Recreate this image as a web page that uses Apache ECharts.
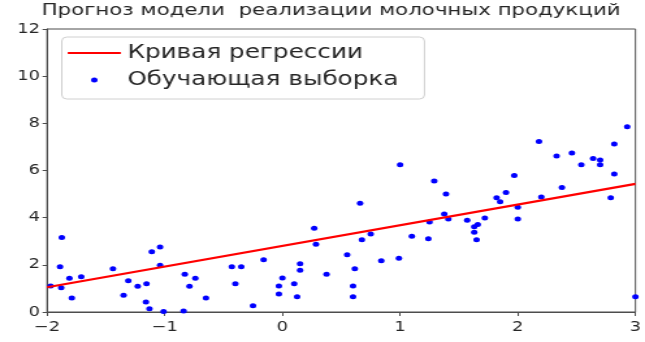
<!DOCTYPE html>
<html><head><meta charset="utf-8">
<script src="https://cdn.jsdelivr.net/npm/echarts@6/dist/echarts.min.js"></script>
<style>
html,body{margin:0;padding:0;background:#fff;overflow:hidden}
#wrap{width:645px;height:342px;overflow:hidden}
#c{width:496px;height:342px;transform:scaleX(1.3004);transform-origin:0 0}
</style>
</head><body><div id="wrap"><div id="c"></div></div>
<script>
const titleText = 'Прогноз модели  реализации молочных продукций';
const lineName = 'Кривая регрессии';
const scatterName = 'Обучающая выборка';
const regX = [-2, 3];
const regY = [1.05, 5.43];
const sampleX = [-1.97,-1.89,-1.88,-1.875,-1.81,-1.79,-1.71,-1.44,-1.35,-1.31,-1.23,-1.155,-1.16,-1.13,-1.11,-1.04,-1.04,-1.01,-0.84,-0.83,-0.79,-0.74,-0.65,-0.43,-0.35,-0.40,
  -0.25,-0.16,-0.03,-0.03,0.0,0.10,0.125,0.15,0.15,0.27,0.285,0.375,0.55,0.615,0.60,0.60,0.66,0.675,0.75,0.84,0.99,1.00,1.10,1.24,
  1.25,1.29,1.375,1.39,1.41,1.57,1.63,1.63,1.65,1.66,1.72,1.82,1.85,1.90,1.97,2.00,2.00,2.18,2.20,2.33,2.375,2.46,2.54,2.64,2.70,2.70,2.79,2.82,2.82,2.93,3.0];
const sampleY = [1.10,1.92,1.03,3.16,1.43,0.59,1.49,1.83,0.71,1.32,1.09,1.20,0.42,0.14,2.55,2.76,1.98,0.02,0.04,1.60,1.09,1.43,0.59,1.92,1.92,1.20,
  0.27,2.22,1.10,0.76,1.44,1.20,0.65,2.05,1.77,3.55,2.87,1.60,2.43,1.83,1.10,0.65,4.61,3.06,3.31,2.17,2.28,6.24,3.21,3.11,
  3.82,5.56,4.16,5.00,3.94,3.89,3.61,3.38,3.06,3.71,3.99,4.84,4.67,5.07,5.79,4.44,3.94,7.23,4.88,6.62,5.28,6.74,6.24,6.51,6.44,6.24,4.84,7.12,5.85,7.86,0.65];
const xTicks = {min: -2, max: 3, step: 1};
const yTicks = {min: 0, max: 12, step: 2};

const fmt = v => v < 0 ? '\u2212' + (-v) : String(v);
const font = 'DejaVu Sans';
const txt = '#262626';
const spine = '#4d4d4d';
const chart = echarts.init(document.getElementById('c'), null, {renderer: 'canvas', width: 496, height: 342});
chart.setOption({
  animation: false,
  backgroundColor: '#fff',
  title: {text: titleText, left: 32, top: 3, padding: 0,
    textStyle: {fontFamily: font, fontSize: 16.4, fontWeight: 'normal', color: txt}},
  grid: {left: 36.2, right: 6.2, top: 29, bottom: 30, show: true, borderColor: spine, borderWidth: 1},
  legend: {
    orient: 'vertical', left: 47.5, top: 37,
    padding: [5, 20, 8, 4.6], itemGap: 5, itemWidth: 40.8, itemHeight: 5, itemTextGap: 20,
    borderColor: '#d0d0d0', borderWidth: 1, borderRadius: 4,
    textStyle: {fontFamily: font, fontSize: 19, color: txt, lineHeight: 22},
    data: [
      {name: lineName, icon: 'path://M0,0 L40,0 L40,2 L0,2 Z'},
      {name: scatterName, icon: 'circle'}
    ]
  },
  xAxis: {
    type: 'value', min: xTicks.min, max: xTicks.max, interval: xTicks.step,
    axisLine: {show: true, onZero: false, lineStyle: {color: spine}},
    axisTick: {show: true, length: 4, lineStyle: {color: spine}},
    splitLine: {show: false},
    axisLabel: {formatter: fmt, fontFamily: font, fontSize: 13.7, color: txt, margin: 8}
  },
  yAxis: {
    type: 'value', min: yTicks.min, max: yTicks.max, interval: yTicks.step,
    axisLine: {show: true, onZero: false, lineStyle: {color: spine}},
    axisTick: {show: true, length: 3.5, lineStyle: {color: spine}},
    splitLine: {show: false},
    axisLabel: {formatter: fmt, fontFamily: font, fontSize: 13.7, color: txt, margin: 5.5}
  },
  series: [
    {name: lineName, type: 'line', data: regX.map((x, i) => [x, regY[i]]), showSymbol: false, symbol: 'none',
     lineStyle: {color: '#ff0000', width: 2.2}, itemStyle: {color: '#ff0000'}, z: 3},
    {name: scatterName, type: 'scatter', data: sampleX.map((x, i) => [x, sampleY[i]]), symbolSize: 5,
     itemStyle: {color: '#0000ff', opacity: 1}, z: 2}
  ]
});
</script></body></html>
